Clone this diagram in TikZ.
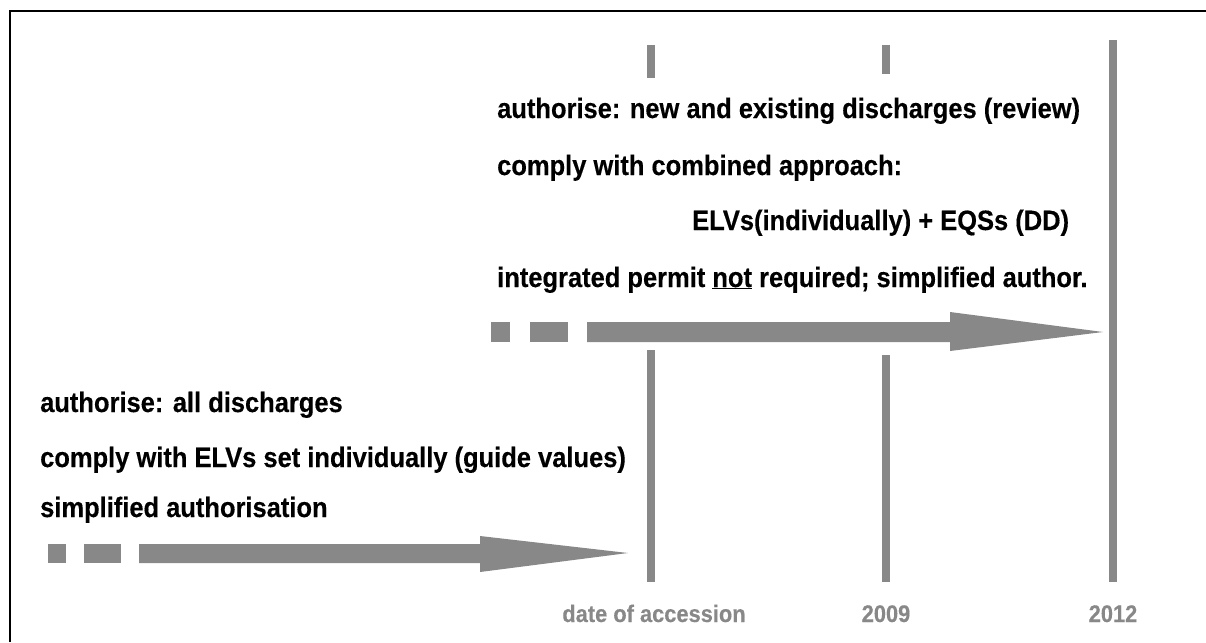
\documentclass[tikz,border=0pt]{standalone}
\usepackage{fontspec}
\setmainfont[FakeStretch=0.91,BoldFeatures={FakeBold=0.3}]{Liberation Sans}
\begin{document}
\begin{tikzpicture}[x=1pt,y=-1pt,
  label/.style={font=\fontsize{28}{28}\selectfont\bfseries, inner sep=0pt, anchor=base west},
  datelabel/.style={font=\fontsize{24}{24}\selectfont\bfseries, text=barcol, inner sep=0pt, anchor=base},
  bar/.style={fill=barcol},
]
\definecolor{barcol}{RGB}{136,136,136}
\useasboundingbox (0,0) rectangle (1206,642);
% frame (top and left edges)
\draw[line width=2pt] (10,642) -- (10,11) -- (1206,11);

% time axis bars
\fill[bar] (647,45) rectangle (655,78);
\fill[bar] (647,350) rectangle (655,582);
\fill[bar] (882,45) rectangle (890,74);
\fill[bar] (882,355) rectangle (890,582);
\fill[bar] (1109,40) rectangle (1117,582);

% upper arrow
\fill[bar] (491,322) rectangle (510,342);
\fill[bar] (530,322) rectangle (568,342);
\fill[bar] (587,322) -- (950,322) -- (950,312) -- (1103,332) -- (950,351) -- (950,342) -- (587,342) -- cycle;

% lower arrow
\fill[bar] (48,544) rectangle (66,563);
\fill[bar] (84,544) rectangle (121,563);
\fill[bar] (139,544) -- (480,544) -- (480,536) -- (628,553) -- (480,572) -- (480,563) -- (139,563) -- cycle;

% upper text block
\node[label] (u1) at (497,118) {authorise: new and existing discharges (review)};
\node[label] (u2) at (497,175) {comply with combined approach:};
\node[label] (u3) at (692,230) {ELVs(individually) + EQSs (DD)};
\node[label] (u4) at (497,287) {integrated permit \underline{not} required; simplified author.};

% lower text block
\node[label] (l1) at (40,412) {authorise: all discharges};
\node[label] (l2) at (40,467) {comply with ELVs set individually (guide values)};
\node[label] (l3) at (40,517) {simplified authorisation};

% date labels
\node[datelabel] (d1) at (654,622) {date of accession};
\node[datelabel] (d2) at (886,622) {2009};
\node[datelabel] (d3) at (1113,622) {2012};
\end{tikzpicture}
\end{document}
